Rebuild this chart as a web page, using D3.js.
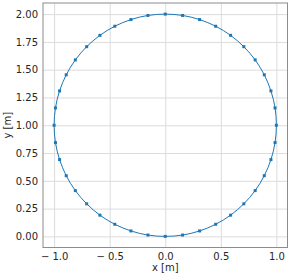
<!DOCTYPE html>
<html><head><meta charset="utf-8">
<script src="https://cdn.jsdelivr.net/npm/d3@7"></script>
<style>body{margin:0;background:#fff;} svg{display:block;}</style>
</head><body>
<svg id="c" width="291" height="277"></svg>
<script>
const xValues = [0, 0.156, 0.309, 0.454, 0.588, 0.707, 0.809, 0.891, 0.951, 0.988, 1.0, 0.988, 0.951, 0.891, 0.809, 0.707, 0.588, 0.454, 0.309, 0.156, 0, -0.156, -0.309, -0.454, -0.588, -0.707, -0.809, -0.891, -0.951, -0.988, -1.0, -0.988, -0.951, -0.891, -0.809, -0.707, -0.588, -0.454, -0.309, -0.156];
const yValues = [0, 0.012, 0.049, 0.109, 0.191, 0.293, 0.412, 0.546, 0.691, 0.844, 1.0, 1.156, 1.309, 1.454, 1.588, 1.707, 1.809, 1.891, 1.951, 1.988, 2.0, 1.988, 1.951, 1.891, 1.809, 1.707, 1.588, 1.454, 1.309, 1.156, 1.0, 0.844, 0.691, 0.546, 0.412, 0.293, 0.191, 0.109, 0.049, 0.012];
const xTicks = [-1.0, -0.5, 0.0, 0.5, 1.0];
const yTicks = [0, 0.25, 0.5, 0.75, 1.0, 1.25, 1.5, 1.75, 2.0];
const xLabel = "x [m]", yLabel = "y [m]";

const svg = d3.select("#c");
const L = 43, R = 287.5, T = 3, B = 247.5;
const x = d3.scaleLinear().domain([-1.1, 1.1]).range([L, R]);
const y = d3.scaleLinear().domain([-0.1, 2.1]).range([B, T]);
const font = "DejaVu Sans, sans-serif";
const fmtX = v => (v < 0 ? "\u2212 " : "") + Math.abs(v).toFixed(1);
const fmtY = v => v.toFixed(2);

// grid
const gx = svg.append("g").attr("transform", `translate(0,${B})`)
  .call(d3.axisBottom(x).tickValues(xTicks).tickSize(-(B - T)).tickFormat(fmtX).tickPadding(5));
const gy = svg.append("g").attr("transform", `translate(${L},0)`)
  .call(d3.axisLeft(y).tickValues(yTicks).tickSize(-(R - L)).tickFormat(fmtY).tickPadding(5));
[gx, gy].forEach(g => {
  g.select(".domain").remove();
  g.selectAll(".tick line").attr("stroke", "#dcdcdc").attr("stroke-width", 1);
  g.selectAll(".tick text").attr("fill", "#262626").style("font-family", font).style("font-size", "10px");
});

// spines
svg.append("rect").attr("x", L).attr("y", T).attr("width", R - L).attr("height", B - T)
  .attr("fill", "none").attr("stroke", "#8c8c8c").attr("stroke-width", 1);

const pts = xValues.map((v, i) => [v, yValues[i]]);
const line = d3.line().x(d => x(d[0])).y(d => y(d[1])).curve(d3.curveCatmullRomClosed);
svg.append("path").attr("d", line(pts)).attr("fill", "none").attr("stroke", "#1f77b4").attr("stroke-width", 1);
svg.append("g").selectAll("rect").data(pts).join("rect")
  .attr("x", d => x(d[0]) - 1.5).attr("y", d => y(d[1]) - 1.5).attr("width", 3).attr("height", 3)
  .attr("fill", "#1f77b4");

svg.append("text").attr("x", (L + R) / 2).attr("y", 271).attr("text-anchor", "middle")
  .style("font-family", font).style("font-size", "10px").attr("fill", "#262626").text(xLabel);
svg.append("text").attr("transform", `translate(11,${(T + B) / 2}) rotate(-90)`).attr("text-anchor", "middle")
  .style("font-family", font).style("font-size", "10px").attr("fill", "#262626").text(yLabel);
</script>
</body></html>
